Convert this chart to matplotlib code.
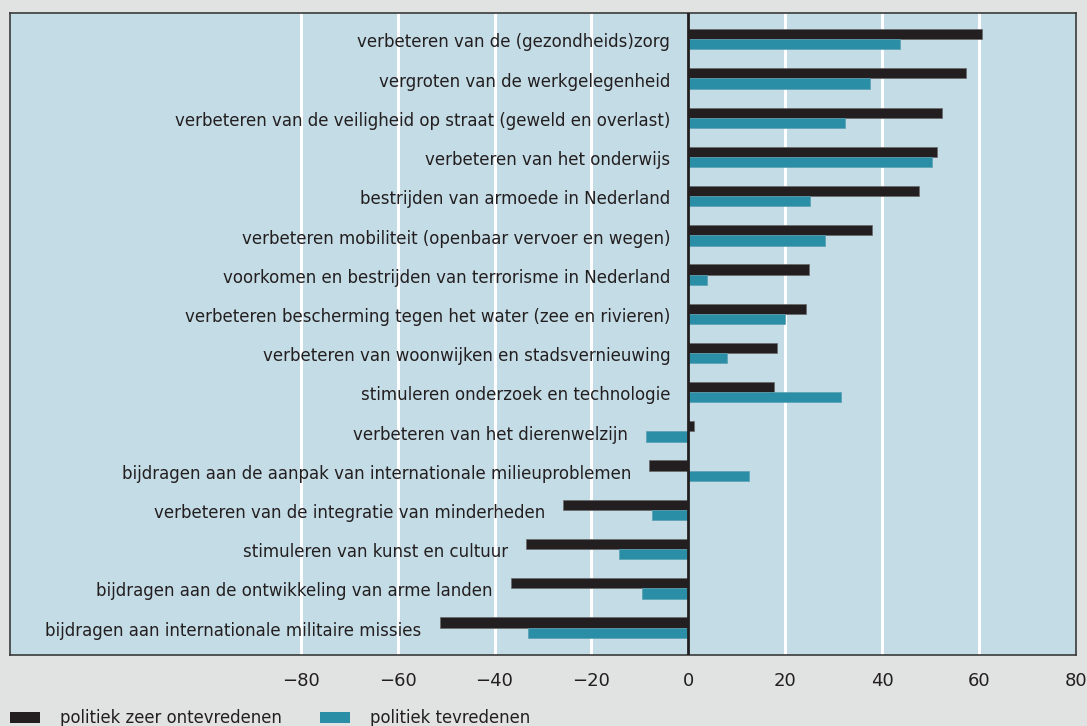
import matplotlib
matplotlib.use("Agg")
import matplotlib.pyplot as plt
import numpy as np
from matplotlib.patches import Rectangle

categories = [
    "verbeteren van de (gezondheids)zorg",
    "vergroten van de werkgelegenheid",
    "verbeteren van de veiligheid op straat (geweld en overlast)",
    "verbeteren van het onderwijs",
    "bestrijden van armoede in Nederland",
    "verbeteren mobiliteit (openbaar vervoer en wegen)",
    "voorkomen en bestrijden van terrorisme in Nederland",
    "verbeteren bescherming tegen het water (zee en rivieren)",
    "verbeteren van woonwijken en stadsvernieuwing",
    "stimuleren onderzoek en technologie",
    "verbeteren van het dierenwelzijn",
    "bijdragen aan de aanpak van internationale milieuproblemen",
    "verbeteren van de integratie van minderheden",
    "stimuleren van kunst en cultuur",
    "bijdragen aan de ontwikkeling van arme landen",
    "bijdragen aan internationale militaire missies",
]
zeer_ontevreden = [60.5, 57.4, 52.3, 51.4, 47.5, 37.8, 24.8, 24.2, 18.2, 17.6,
                   1.2, -8.1, -25.8, -33.5, -36.6, -51.3]
tevreden = [43.7, 37.4, 32.4, 50.3, 25.0, 28.1, 3.9, 20.0, 7.9, 31.4,
            -8.7, 12.6, -7.6, -14.3, -9.6, -33.1]
xticks = [-80, -60, -40, -20, 0, 20, 40, 60, 80]
series_names = ["politiek zeer ontevredenen", "politiek tevredenen"]

plt.rcParams['font.family'] = ['DejaVu Sans']
black = "#231f20"
teal = "#2a8fa6"
bg = "#e1e3e3"
axbg = "#c4dce6"
W, H = 1087, 726

fig = plt.figure(figsize=(W/100, H/100), dpi=100, facecolor=bg)
ax = fig.add_axes([10/W, 1-655/H, (1076-10)/W, (655-13)/H])
ax.set_facecolor(axbg)

y = np.arange(len(categories))
h = 0.26
ax.barh(y - h/2, zeer_ontevreden, height=h, color=black, edgecolor="#6a6a6a", linewidth=0.5, zorder=3)
ax.barh(y + h/2, tevreden, height=h, color=teal, edgecolor="#5a9fb0", linewidth=0.5, zorder=3)

ax.set_xlim(-140, 80)
ax.set_ylim(15.7, -0.67)
for g in [-80, -60, -40, -20, 20, 40, 60]:
    ax.axvline(g, color="white", lw=2.2, zorder=1)
ax.axvline(0, color=black, lw=2, zorder=4)

ax.set_xticks(xticks)
ax.set_xticklabels([f"\u2212{abs(t)}" if t < 0 else str(t) for t in xticks], fontsize=13, color="#231f20")
ax.tick_params(axis='x', length=0, pad=12)
ax.set_yticks([])
for s in ax.spines.values():
    s.set_color("#3a3a3a")
    s.set_linewidth(1.2)

for i, cat in enumerate(categories):
    left = min(0, zeer_ontevreden[i], tevreden[i])
    ax.annotate(cat, xy=(left, i + 0.08), xytext=(-13, 0), textcoords="offset points",
                ha="right", va="center", fontsize=12.0, color="#231f20")

# legend (manual)
leg_y = 1 - 718/H
for x0, col, name, tx in [(10, black, series_names[0], 60), (320, teal, series_names[1], 370)]:
    fig.patches.append(Rectangle((x0/W, leg_y - 5/H), 30/W, 11/H, transform=fig.transFigure,
                                 facecolor=col, edgecolor="none"))
    fig.text(tx/W, leg_y, name, ha="left", va="center", fontsize=11.9, color="#231f20")

fig.savefig("out.png", dpi=100, facecolor=bg)
